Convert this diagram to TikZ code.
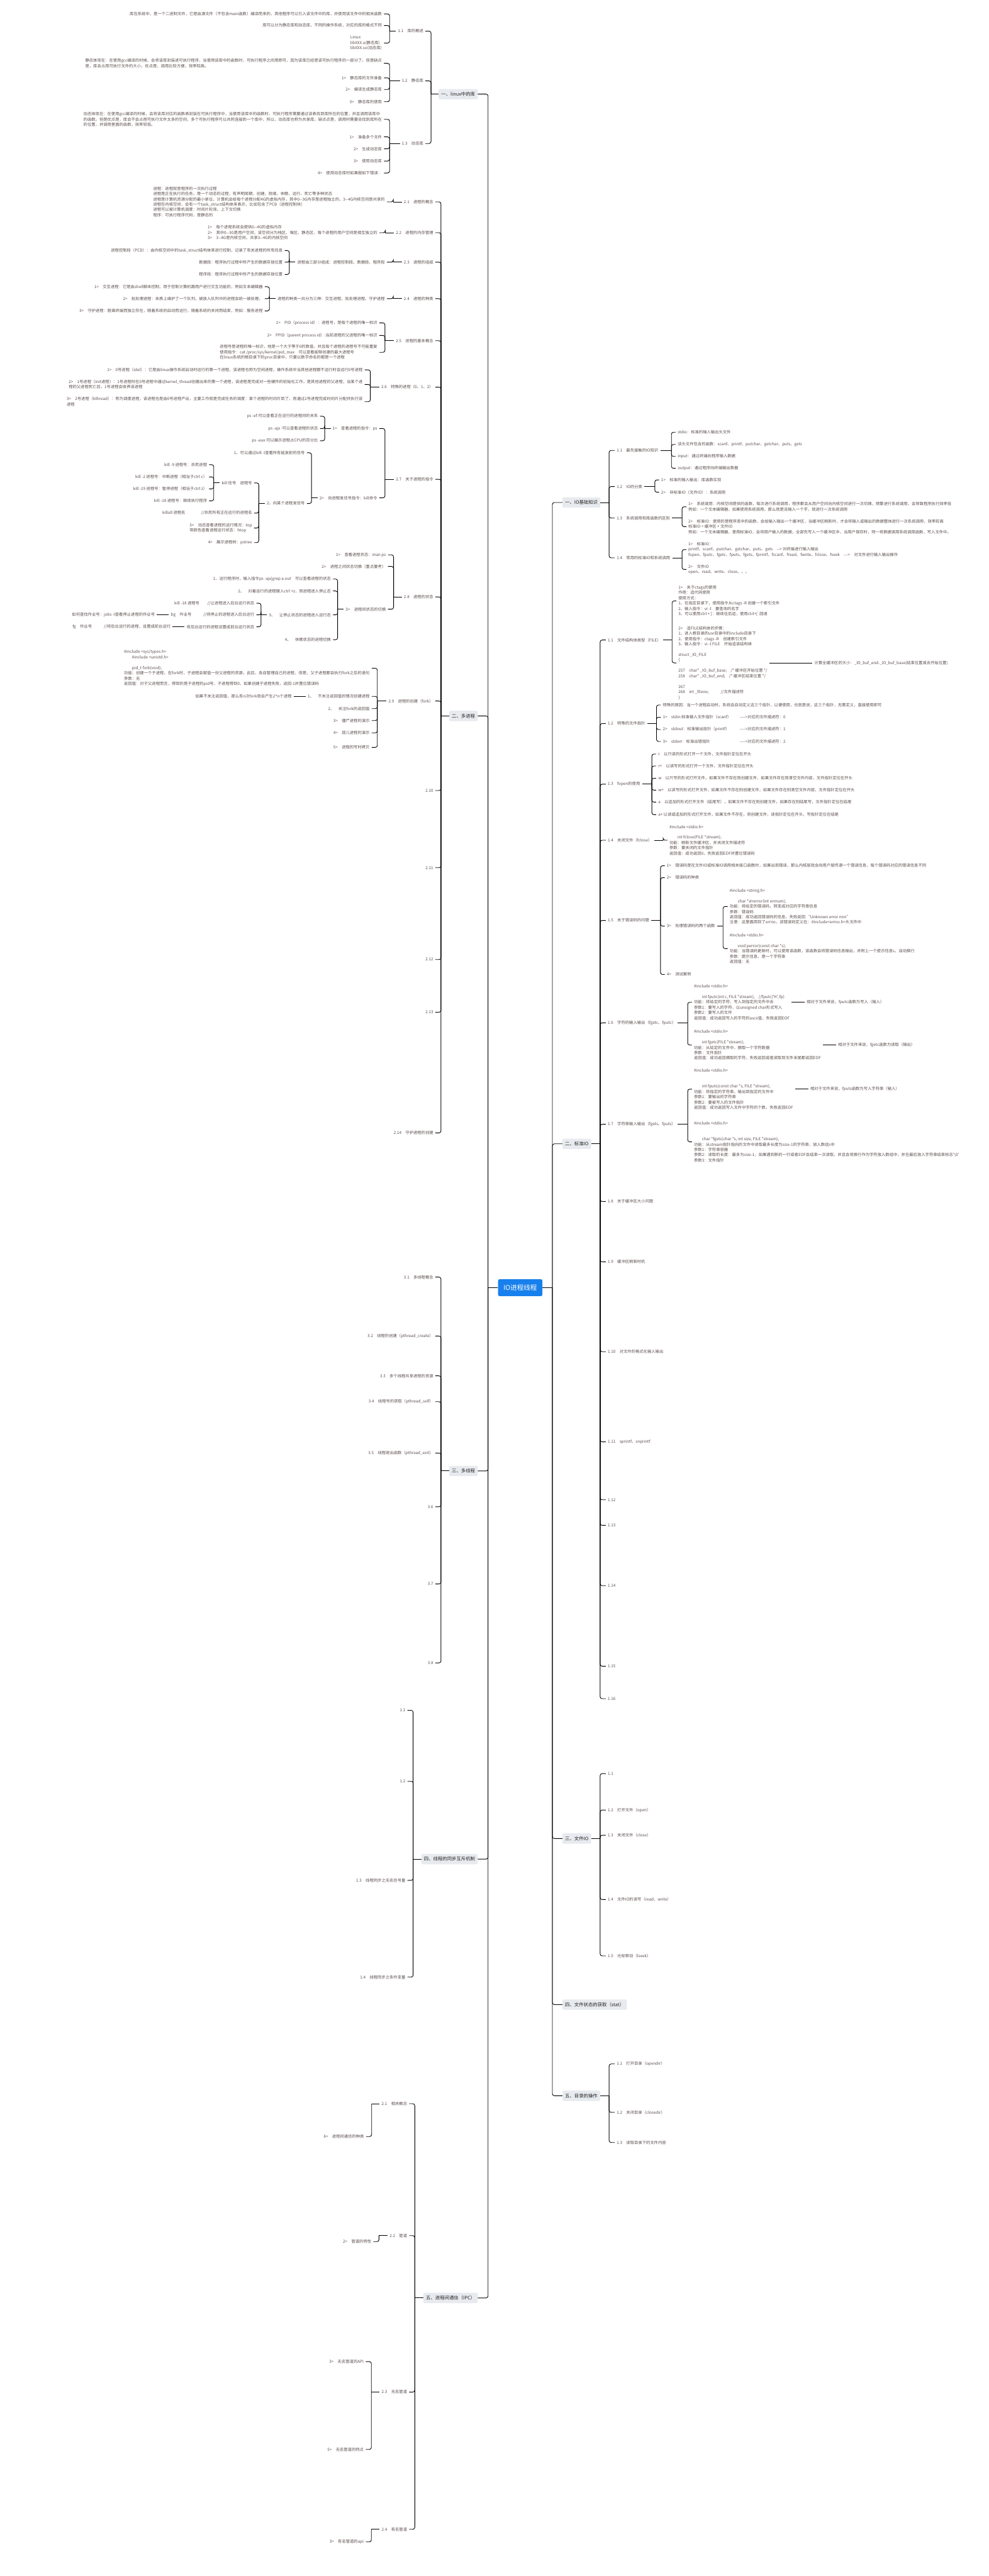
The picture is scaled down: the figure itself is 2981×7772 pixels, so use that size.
\documentclass[tikz,border=0pt]{standalone}
\usepackage{fontspec}
\setmainfont{Noto Sans CJK SC}[Ligatures=TeXOff]
\usetikzlibrary{calc}
\definecolor{leafc}{RGB}{92,76,76}
\definecolor{boxc}{RGB}{231,234,238}
\definecolor{mtxt}{RGB}{34,34,34}
\definecolor{cblue}{RGB}{24,128,236}
\newcommand\lf{\fontsize{12}{16}\selectfont}
\newcommand\mf{\fontsize{14}{17}\selectfont}
\newcommand\cf{\fontsize{20}{24}\selectfont}
\tikzset{
  every node/.style={inner ysep=1pt, inner xsep=6pt, text=leafc, font=\lf, align=left},
  nl/.style={anchor=east}, nr/.style={anchor=west},
  mb/.style={fill=boxc, rounded corners=4pt, font=\mf, text=mtxt, inner xsep=8pt, minimum height=31pt},
  cn/.style={draw=black, line width=1.7pt, rounded corners=6pt},
}
\newcommand\fkL[3]{\coordinate (fk) at (#2,0);\draw[cn] (#1.west) -- (#1.west -| fk);\foreach \kk in {#3}{\draw[cn] (#1.west -| fk) |- (\kk.east);}}
\newcommand\fkR[3]{\coordinate (fk) at (#2,0);\draw[cn] (#1.east) -- (#1.east -| fk);\foreach \kk in {#3}{\draw[cn] (#1.east -| fk) |- (\kk.west);}}
\newcommand\fkLr[2]{\path (#1.west) ++(-18,0) coordinate (fk);\draw[cn] (#1.west) -- (fk);\foreach \kk in {#2}{\draw[cn] (fk) |- (\kk.east);}}
\newcommand\fkRr[2]{\path (#1.east) ++(18,0) coordinate (fk);\draw[cn] (#1.east) -- (fk);\foreach \kk in {#2}{\draw[cn] (fk) |- (\kk.west);}}
\begin{document}
\begin{tikzpicture}[x=1pt,y=-1pt]
\fill[white] (0,0) rectangle (2981,7772);
\useasboundingbox (0,0) rectangle (2981,7772);
% ================= centre and main branches
\node[fill=cblue,text=white,font=\cf,rounded corners=5pt,minimum width=134pt,minimum height=51pt,inner xsep=8pt] (C) at (1569,3885) {IO进程线程};
\node[mb,nl] (m1) at (1441,284) {一、linux中的库};
\node[mb,nl] (m2) at (1441,2160) {二、多进程};
\node[mb,nl] (m3) at (1441,4438) {三、多线程};
\node[mb,nl] (m4) at (1441,5609) {四、线程的同步互斥机制};
\node[mb,nl] (m5) at (1441,6933) {五、进程间通信（IPC）};
\node[mb,nr] (r1) at (1696,1516) {一、IO基础知识};
\node[mb,nr] (r2) at (1696,3451) {二、标准IO};
\node[mb,nr] (r3) at (1696,5547) {三、文件IO};
\node[mb,nr] (r4) at (1696,6048) {四、文件状态的获取（stat）};
\node[mb,nr] (r5) at (1696,6323) {五、目录的操作};
\fkL{C}{1472}{m1,m2,m3,m4,m5}
\fkR{C}{1666}{r1,r2,r3,r4,r5}
% ================= left 一 linux中的库
\node[nl] (a1) at (1283,94) {1.1　库的概述};
\node[nl] (a2) at (1283,244) {1.2　静态库};
\node[nl] (a3) at (1283,433) {1.3　动态库};
\fkL{m1}{1300}{a1,a2,a3}
\node[nl] (a1a) at (1158,42) {库在系统中，是一个二进制文件，它是由源文件（不包含main函数）编译而来的，其他程序可以引入该文件中的库，并使用该文件中的相关函数};
\node[nl] (a1b) at (1158,77) {库可以分为静态库和动态库，不同的操作系统，对应的库的格式不同};
\node[nl] (a1c) at (1158,130) {Linux:\\libXXX.a(静态库)\\libXXX.so(动态库)};
\fkL{a1}{1175}{a1a,a1b,a1c}
\node[nl] (a2a) at (1158,191) {静态体现在：在使用gcc编译的时候，会将该库封装进可执行程序，当使用该库中的函数时，可执行程序之间用即可，因为该库已经是该可执行程序的一部分了。但是缺点\\是，库会占用可执行文件的大小，优点是，调用比较方便，效率较高。};
\node[nl] (a2b) at (1158,235) {1>　静态库的文件准备};
\node[nl] (a2c) at (1158,270) {2>　编译生成静态库};
\node[nl] (a2d) at (1158,307) {3>　静态库的使用};
\fkL{a2}{1175}{a2a,a2b,a2c,a2d}
\node[nl] (a3a) at (1158,360) {动态体现在：在使用gcc编译的时候，会将该库对应的函数表封装在可执行程序中，当使用该库中的函数时，可执行程序需要通过该表找到库所在的位置，并且调用该库中\\的函数。但是优点是，库会不会占用可执行文件太多的空间，多个可执行程序可以共同连接到一个库中，所以，动态库也称为共享库。缺点点是，调用时需要去找到库所在\\的位置，并调用里面的函数，效率较低。};
\node[nl] (a3b) at (1158,413) {1>　准备多个文件};
\node[nl] (a3c) at (1158,449) {2>　生成动态库};
\node[nl] (a3d) at (1158,486) {3>　使用动态库};
\node[nl] (a3e) at (1158,522) {4>　使用动态库时如果报如下错误：};
\fkL{a3}{1175}{a3a,a3b,a3c,a3d,a3e}
% ================= left 二 多进程
\node[nl] (b1) at (1313,609) {2.1　进程的概念};
\node[nl] (b2) at (1313,702) {2.2　进程的内存管理};
\node[nl] (b3) at (1313,791) {2.3　进程的组成};
\node[nl] (b4) at (1313,901) {2.4　进程的种类};
\node[nl] (b5) at (1313,1028) {2.5　进程的基本概念};
\node[nl] (b6) at (1313,1168) {2.6　特殊的进程（0、1、2）};
\node[nl] (b7) at (1313,1446) {2.7　关于进程的指令};
\node[nl] (b8) at (1313,1801) {2.8　进程的状态};
\node[nl] (b9) at (1313,2115) {2.9　进程的创建（fork）};
\node[nl] (b10) at (1313,2385) {2.10};
\node[nl] (b11) at (1313,2618) {2.11};
\node[nl] (b12) at (1313,2895) {2.12};
\node[nl] (b13) at (1313,3054) {2.13};
\node[nl] (b14) at (1313,3418) {2.14　守护进程的创建};
\fkL{m2}{1330}{b1,b2,b3,b4,b5,b6,b7,b8,b9,b10,b11,b12,b13,b14}
\node[nl] (b1a) at (1167,609) {进程：进程就是程序的一次执行过程\\进程是正在执行的任务，是一个动态的过程，有声明周期，创建、就绪、休眠、运行、死亡等多种状态\\进程是计算机资源分配的最小单位，计算机会给每个进程分配4G的虚拟内存，其中0--3G内存是进程独立的，3--4G内核空间是共享的\\进程在内核空间，会有一个task\_struct结构体来表示，比如包含了PCB（进程控制块）\\进程可以被计算机调度：时间片轮询、上下文切换\\程序：可执行程序代码，是静态的};
\fkL{b1}{1186}{b1a}
\node[nl] (b2a) at (1144,702) {1>　每个进程系统会提供0--4G的虚拟内存\\2>　其中0--3G是用户空间，该空间分为栈区、堆区、静态区，每个进程的用户空间是相互独立的\\3>　3--4G是内核空间，共享3--4G的内核空间};
\fkL{b2}{1162}{b2a}
\node[nl] (b3a) at (1167,791) {进程由三部分组成：进程控制段、数据段、程序段};
\fkL{b3}{1186}{b3a}
\node[nl] (b3a1) at ($(b3a.west)+(-32,-35)$) {进程控制段（PCD）：由内核空间中的task\_struct结构体来进行控制，记录了有关进程的所有信息};
\node[nl] (b3a2) at ($(b3a.west)+(-32,0)$) {数据段：程序执行过程中所产生的数据存放位置};
\node[nl] (b3a3) at ($(b3a.west)+(-32,37)$) {程序段：程序执行过程中所产生的数据存放位置};
\fkLr{b3a}{b3a1,b3a2,b3a3}
\node[nl] (b4a) at (1167,901) {进程的种类一共分为三种：交互进程、批处理进程、守护进程};
\fkL{b4}{1186}{b4a}
\node[nl] (b4a1) at ($(b4a.west)+(-32,-36)$) {1>　交互进程：它是由shell脚本控制，用于控制计算机跟用户进行交互功能的，例如文本编辑器};
\node[nl] (b4a2) at ($(b4a.west)+(-32,0)$) {2>　批处理进程：本质上维护了一个队列，被放入队列中的进程会统一被处理。};
\node[nl] (b4a3) at ($(b4a.west)+(-32,37)$) {3>　守护进程：脱离终端而独立存在，随着系统的启动而运行，随着系统的关闭而结束，例如：服务进程};
\fkLr{b4a}{b4a1,b4a2,b4a3}
\node[nl] (b5a) at (1144,974) {1>　PID（process id）：进程号，是每个进程的唯一标识};
\node[nl] (b5b) at (1144,1012) {2>　PPID（parent process id）:当前进程的父进程的唯一标识};
\node[nl] (b5c) at (1144,1063) {进程号是进程的唯一标识，他是一个大于等于0的数值，并且每个进程的进程号不可能重复\\使用指令：cat /proc/sys/kernel/pid\_max　可以查看能够创建的最大进程号\\在linux系统的根目录下的proc目录中，只要以数字命名的都是一个进程};
\fkL{b5}{1161}{b5a,b5b,b5c}
\node[nl] (b6a) at (1100,1116) {1>　0号进程（idel）：它是由linux操作系统启动时运行的第一个进程，该进程也称为空闲进程，操作系统中当其他进程都不运行时会运行0号进程};
\node[nl] (b6b) at (1100,1160) {2>　1号进程（init进程）：1号进程时在0号进程中通过kernel\_thread创建出来的第一个进程，该进程是完成对一些硬件的初始化工作，是其他进程的父进程，当某个进\\程的父进程死亡后，1号进程会收养该进程};
\node[nl] (b6c) at (1100,1212) {3>　2号进程（kthread）：称为调度进程，该进程也是由0号进程产出，主要工作就是完成任务的调度：某个进程的时间片到了，则通过2号进程完成时间片分配并执行该\\进程};
\fkL{b6}{1117}{b6a,b6b,b6c}
\node[nl] (b7a) at (1144,1293) {1>　查看进程的指令：ps};
\node[nl] (b7b) at (1144,1502) {2>　向进程发信号指令：kill命令};
\fkL{b7}{1161}{b7a,b7b}
\node[nl] (b7a1) at ($(b7a.west)+(-32,-37)$) {ps -ef:可以查看正在运行的进程间的关系};
\node[nl] (b7a2) at ($(b7a.west)+(-32,0)$) {ps -ajx :可以查看进程的状态};
\node[nl] (b7a3) at ($(b7a.west)+(-32,37)$) {ps -aux:可以展示进程占CPU的百分比};
\fkLr{b7a}{b7a1,b7a2,b7a3}
\node[nl] (b7b1) at ($(b7b.west)+(-32,-136)$) {1、可以通过kill -l查看所有能发射的信号};
\node[nl] (b7b2) at ($(b7b.west)+(-32,17)$) {2、向某个进程发信号};
\fkLr{b7b}{b7b1,b7b2}
\node[nl] (b7b2a) at ($(b7b2.west)+(-32,-62)$) {kill 信号　进程号};
\node[nl] (b7b2b) at ($(b7b2.west)+(-32,29)$) {killall 进程名　　　　//杀死所有正在运行的进程名};
\node[nl] (b7b2c) at ($(b7b2.west)+(-32,74)$) {3>　动态查看进程的运行情况：top\\带颜色查看进程运行状态：htop};
\node[nl] (b7b2d) at ($(b7b2.west)+(-32,118)$) {4>　展示进程树：pstree};
\fkLr{b7b2}{b7b2a,b7b2b,b7b2c,b7b2d}
\node[nl] (kk1) at ($(b7b2a.west)+(-32,-55)$) {kill -9 进程号：杀死进程};
\node[nl] (kk2) at ($(b7b2a.west)+(-32,-18)$) {kill -2 进程号：中断进程（相当于ctrl c）};
\node[nl] (kk3) at ($(b7b2a.west)+(-32,18)$) {kill -19 进程号：暂停进程（相当于ctrl z）};
\node[nl] (kk4) at ($(b7b2a.west)+(-32,54)$) {kill -18 进程号：继续执行程序};
\fkLr{b7b2a}{kk1,kk2,kk3,kk4}
\node[nl] (b8a) at (1170,1674) {1>　查看进程状态：man ps};
\node[nl] (b8b) at (1170,1709) {2>　进程之间状态切换（重点要考）};
\node[nl] (b8c) at (1170,1838) {3>　进程间状态的切换};
\fkL{b8}{1187}{b8a,b8b,b8c}
\node[nl] (b8c1) at ($(b8c.west)+(-32,-91)$) {1、运行程序时，输入指令ps -ajx|grep a.out　可以查看进程的状态};
\node[nl] (b8c2) at ($(b8c.west)+(-32,-55)$) {2、　对着运行的进程键入ctrl +z，则进程进入停止态};
\node[nl] (b8c3) at ($(b8c.west)+(-32,17)$) {3、　让停止状态的进程进入运行态};
\node[nl] (b8c4) at ($(b8c.west)+(-32,92)$) {4、　休眠状态的进程切换};
\fkLr{b8c}{b8c1,b8c2,b8c3,b8c4}
\node[nl] (b8c3a) at ($(b8c3.west)+(-32,-35)$) {kill -18 进程号　　//让进程进入后台运行状态};
\node[nl] (b8c3b) at ($(b8c3.west)+(-32,0)$) {bg　作业号　　　//将停止的进程进入后台运行};
\node[nl] (b8c3c) at ($(b8c3.west)+(-32,36)$) {将后台运行的进程设置成前台运行状态};
\fkLr{b8c3}{b8c3a,b8c3b,b8c3c}
\node[nl] (b8c3b1) at ($(b8c3b.west)+(-36,0)$) {如何查找作业号：jobs -l查看停止进程的作业号};
\draw[cn] (b8c3b.west) -- (b8c3b1.east);
\node[nl] (b8c3c1) at ($(b8c3c.west)+(-36,0)$) {fg　作业号　　　//将后台运行的进程，设置成前台运行};
\draw[cn] (b8c3c.west) -- (b8c3c1.east);
\node[nl] (b9a) at (1121,2016) {\#include <sys/types.h>\\　　\#include <unistd.h>\\[16pt]　　pid\_t fork(void);\\功能：创建一个子进程，在fork时，子进程会赋值一份父进程的资源，此后，各自管理自己的进程，但是，父子进程都会执行fork之后的语句\\参数：无\\返回值：对于父进程而言，得到的是子进程的pid号，子进程得到0，如果创建子进程失败，返回-1并置位错误码};
\node[nl] (b9b) at (1121,2101) {1、　不关注返回值的情况创建进程};
\node[nl] (b9c) at (1121,2138) {2、　关注fork的返回值};
\node[nl] (b9d) at (1121,2174) {3>　僵尸进程的演示};
\node[nl] (b9e) at (1121,2211) {4>　孤儿进程的演示};
\node[nl] (b9f) at (1121,2255) {5>　进程的写时拷贝};
\fkL{b9}{1138}{b9a,b9b,b9c,b9d,b9e,b9f}
\node[nl] (b9b1) at ($(b9b.west)+(-36,0)$) {如果不关注返回值，那么有n次fork就会产生2\textasciicircum n个进程};
\draw[cn] (b9b.west) -- (b9b1.east);
% ================= left 三 多线程
\node[nl] (c1) at (1313,3853) {3.1　多线程概念};
\node[nl] (c2) at (1313,4031) {3.2　线程的创建（pthread\_create）};
\node[nl] (c3) at (1313,4151) {3.3　多个线程共享进程的资源};
\node[nl] (c4) at (1313,4229) {3.4　线程号的获取（pthread\_self）};
\node[nl] (c5) at (1313,4384) {3.5　线程退出函数（pthread\_exit）};
\node[nl] (c6) at (1313,4546) {3.6};
\node[nl] (c7) at (1313,4779) {3.7};
\node[nl] (c8) at (1313,5017) {3.8};
\fkL{m3}{1330}{c1,c2,c3,c4,c5,c6,c7,c8}
% ================= left 四
\node[nl] (d1) at (1229,5160) {1.1};
\node[nl] (d2) at (1229,5374) {1.2};
\node[nl] (d3) at (1229,5673) {1.3　线程同步之无名信号量};
\node[nl] (d4) at (1229,5965) {1.4　线程同步之条件变量};
\fkL{m4}{1246}{d1,d2,d3,d4}
% ================= left 五
\node[nl] (e1) at (1234,6347) {2.1　相关概念};
\node[nl] (e2) at (1234,6745) {2.2　管道};
\node[nl] (e3) at (1234,7217) {2.3　无名管道};
\node[nl] (e4) at (1234,7631) {2.4　有名管道};
\fkL{m5}{1251}{e1,e2,e3,e4}
\node[nl] (e1f) at (1104,6446) {6>　进程间通信的种类};
\fkL{e1}{1121}{e1f}
\node[nl] (e2b) at (1126,6763) {2>　管道的特性};
\fkL{e2}{1143}{e2b}
\node[nl] (e3c) at (1103,7125) {3>　无名管道的API};
\node[nl] (e3e) at (1103,7390) {5>　无名管道的特点};
\fkL{e3}{1120}{e3c,e3e}
\node[nl] (e4c) at (1103,7669) {3>　有名管道的api};
\fkL{e4}{1120}{e4c}
% ================= right 一 IO基础知识
\node[nr] (f1) at (1854,1359) {1.1　最先接触的IO知识};
\node[nr] (f2) at (1854,1468) {1.2　IO的分类};
\node[nr] (f3) at (1854,1563) {1.3　系统调用和库函数的区别};
\node[nr] (f4) at (1854,1683) {1.4　常用的标准IO和系统调用};
\fkR{r1}{1837}{f1,f2,f3,f4}
\node[nr] (f1a) at (2038,1304) {stdio：标准的输入输出头文件};
\node[nr] (f1b) at (2038,1341) {该头文件包含的函数：scanf、printf、putchar、getchar、puts、gets};
\node[nr] (f1c) at (2038,1377) {input：通过终端向程序输入数据};
\node[nr] (f1d) at (2038,1413) {output：通过程序向终端输出数据};
\fkR{f1}{2025}{f1a,f1b,f1c,f1d}
\node[nr] (f2a) at (1988,1448) {1>　标准的输入输出：库函数实现};
\node[nr] (f2b) at (1988,1485) {2>　非标准IO（文件IO）：系统调用};
\fkR{f2}{1975}{f2a,f2b}
\node[nr] (f3a) at (2070,1529) {1>　系统调用：内核空间提供的函数，每次进行系统调用，程序都会从用户空间向内核空间进行一次切换，频繁进行系统调用，会导致程序执行效率低\\例如：一个文本编辑器，如果使用系统调用，那么就是没输入一个字，就进行一次系统调用};
\node[nr] (f3b) at (2070,1589) {2>　标准IO：使用的是程序库中的函数，会给输入输出一个缓冲区，当缓冲区刷新时，才会将输入或输出的数据整体进行一次系统调用，效率较高\\标准IO = 缓冲区 + 文件IO\\例如：一个文本编辑器，使用标准IO，会将用户输入的数据，全部先写入一个缓冲区中，当用户保存时，同一将数据调用系统调用函数，写入文件中。};
\fkR{f3}{2057}{f3a,f3b}
\node[nr] (f4a) at (2070,1658) {1>　标准IO：\\printf、scanf、putchar、getchar、puts、gets　--> 对终端进行输入输出\\fopen、fputc、fgetc、fputs、fgets、fprintf、fscanf、fread、fwrite、fclose、fseek　--->　对文件进行输入输出操作};
\node[nr] (f4b) at (2070,1718) {2>　文件IO\\open、read、write、close。。。};
\fkR{f4}{2057}{f4a,f4b}
% ================= right 二 标准IO
\node[nr] (g1) at (1827,1931) {1.1　文件结构体类型（FILE）};
\node[nr] (g2) at (1827,2183) {1.2　特殊的文件指针};
\node[nr] (g3) at (1827,2366) {1.3　fopen的使用};
\node[nr] (g4) at (1827,2535) {1.4　关闭文件（fclose）};
\node[nr] (g5) at (1827,2777) {1.5　关于错误码的问题};
\node[nr] (g6) at (1827,3086) {1.6　字符的输入输出（fgetc、fputc）};
\node[nr] (g7) at (1827,3392) {1.7　字符串输入输出（fgets、fputs）};
\node[nr] (g8) at (1827,3625) {1.8　关于缓冲区大小问题};
\node[nr] (g9) at (1827,3807) {1.9　缓冲区刷新时机};
\node[nr] (g10) at (1827,4078) {1.10　对文件的格式化输入输出};
\node[nr] (g11) at (1827,4350) {1.11　sprintf、snprintf};
\node[nr] (g12) at (1827,4525) {1.12};
\node[nr] (g13) at (1827,4602) {1.13};
\node[nr] (g14) at (1827,4784) {1.14};
\node[nr] (g15) at (1827,5027) {1.15};
\node[nr] (g16) at (1827,5125) {1.16};
\fkR{r2}{1810}{g1,g2,g3,g4,g5,g6,g7,g8,g9,g10,g11,g12,g13,g14,g15,g16}
\node[nr] (g1a) at (2040,1813) {1>　关于ctags的使用\\作用：追代码使用\\使用方式：\\1、在指定目录下，使用指令从ctags -R 创建一个索引文件\\2、输入指令：vi -t　要查询的名字\\3、可以使用ctrl + ]：继续往后追，使用ctrl+[ :回退};
\node[nr] (g1b) at (2040,2000) {2>　追FILE结构体的步骤：\\1、进入根目录的usr目录中的include目录下\\2、使用指令：ctags -R　创建索引文件\\3、输入指令：vi -t FILE　开始追该结构体\\[16pt]struct \_IO\_FILE\\\{\\[16pt]257　char* \_IO\_buf\_base;　/* 缓冲区开始位置 */\\258　char* \_IO\_buf\_end;　/* 缓冲区结束位置 */\\[16pt]267\\268　int \_fileno;　　　//文件描述符\\\}};
\fkR{g1}{2027}{g1a,g1b}
\node[nr] (g1b1) at ($(g1b.east)+(130,0)$) {计算全缓冲区的大小：\_IO\_buf\_end-\_IO\_buf\_base(结束位置减去开始位置)};
\draw[cn] (g1b.east) -- (g1b1.west);
\node[nr] (g2a) at (1993,2127) {特殊的原因：当一个进程启动时，系统会自动定义这三个指针，以便使用，也就是说，这三个指针，无需定义，直接使用即可};
\node[nr] (g2b) at (1993,2164) {\makebox[232pt][l]{1>　stdin:标准输入文件指针（scanf）}---->对应的文件描述符：0};
\node[nr] (g2c) at (1993,2201) {\makebox[232pt][l]{2>　stdout：标准输出指针（printf）}---->对应的文件描述符：1};
\node[nr] (g2d) at (1993,2237) {\makebox[232pt][l]{3>　stderr：标准出错指针}---->对应的文件描述符：2};
\fkR{g2}{1980}{g2a,g2b,g2c,g2d}
\node[nr] (g3a) at (1979,2275) {r　以只读的形式打开一个文件，文件指针定位在开头};
\node[nr] (g3b) at (1979,2311) {r+　以读写的形式打开一个文件，文件指针定位在开头};
\node[nr] (g3c) at (1979,2348) {w　以只写的形式打开文件，如果文件不存在则创建文件，如果文件存在则清空文件内容，文件指针定位在开头};
\node[nr] (g3d) at (1979,2384) {w+　以读写的形式打开文件，如果文件不存在则创建文件，如果文件存在则清空文件内容，文件指针定位在开头};
\node[nr] (g3e) at (1979,2420) {a　以追加的形式打开文件（结尾写），如果文件不存在则创建文件，如果存在则结尾写，文件指针定位在结尾};
\node[nr] (g3f) at (1979,2458) {a+ 以读或追加的形式打开文件，如果文件不存在，则创建文件，读指针定位在开头，写指针定位在结尾};
\fkR{g3}{1966}{g3a,g3b,g3c,g3d,g3e,g3f}
\node[nr] (g4a) at (2013,2535) {\#include <stdio.h>\\[16pt]　　int fclose(FILE *stream);\\功能：刷新文件缓冲区，并关闭文件描述符\\参数：要关闭的文件指针\\返回值：成功返回0，失败返回EOF并置位错误码};
\fkR{g4}{2000}{g4a}
\node[nr] (g5a) at (2005,2612) {1>　错误码是在文件IO或标准IO调用相关接口函数时，如果出现错误，那么内核层就会向用户层传递一个错误信息，每个错误码对应的错误信息不同};
\node[nr] (g5b) at (2005,2648) {2>　错误码的种类};
\node[nr] (g5c) at (2005,2794) {3>　处理错误码的两个函数};
\node[nr] (g5d) at (2005,2940) {4>　测试案例};
\fkR{g5}{1992}{g5a,g5b,g5c,g5d}
\node[nr] (g5c1) at ($(g5c.east)+(32,-59)$) {\#include <string.h>\\[16pt]　　char *strerror(int errnum);\\功能：将给定的错误码，转变成对应的字符串信息\\参数：错误码\\返回值：成功返回错误码的信息，失败返回 “Unknown error nnn”\\注意：这里面用到了errno，该错误码定义在：\#include<errno.h>头文件中};
\node[nr] (g5c2) at ($(g5c.east)+(32,68)$) {\#include <stdio.h>\\[16pt]　　void perror(const char *s);\\功能：当错误码更新时，可以使用该函数，该函数会将错误码信息输出，并附上一个提示信息s，自动换行\\参数：提示信息，是一个字符串\\返回值：无};
\fkRr{g5c}{g5c1,g5c2}
\node[nr] (g6a) at (2087,3024) {\#include <stdio.h>\\[16pt]　　int fputc(int c, FILE *stream);　//fputc('H', fp)\\功能：将给定的字符，写入到指定的文件中去\\参数1：要写入的字符，以unsigned char形式写入\\参数2：要写入的文件\\返回值：成功返回写入的字符的ascii值，失败返回EOF};
\node[nr] (g6b) at (2087,3153) {\#include <stdio.h>\\[16pt]　　int fgetc(FILE *stream);\\功能：从给定的文件中，摘取一个字符数据\\参数：文件指针\\返回值：成功返回摘取的字符，失败返回或者读取到文件末尾都返回EOF};
\fkR{g6}{2074}{g6a,g6b}
\node[nr] (g6a1) at ($(g6a.east)+(40,0)$) {相对于文件来说，fputc函数为写入（输入）};
\draw[cn] (g6a.east) -- (g6a1.west);
\node[nr] (g6b1) at ($(g6b.east)+(40,0)$) {相对于文件来说，fgetc函数为读取（输出）};
\draw[cn] (g6b.east) -- (g6b1.west);
\node[nr] (g7a) at (2087,3286) {\#include <stdio.h>\\[32pt]　　int fputs(const char *s, FILE *stream);\\功能：将指定的字符串，输出到指定的文件中\\参数1：要输出的字符串\\参数2：要被写入的文件指针\\返回值：成功返回写入文件中字符的个数，失败返回EOF};
\node[nr] (g7b) at (2087,3445) {\#include <stdio.h>\\[32pt]　　char *fgets(char *s, int size, FILE *stream);\\功能：从stream指针指向的文件中读取最多长度为size-1的字符串，放入数组s中\\参数1：字符串容器\\参数2：读取的长度：最多为size-1，如果遇到新的一行或者EOF会结束一次读取，并且会将换行作为字符放入数组中，并在最后放入字符串结束标志'\textbackslash 0'\\参数3：文件指针};
\fkR{g7}{2074}{g7a,g7b}
\node[nr] (g7a1) at ($(g7a.east)+(40,0)$) {相对于文件来说，fputs函数为写入字符串（输入）};
\draw[cn] (g7a.east) -- (g7a1.west);
% ================= right 三 文件IO
\node[nr] (h1) at (1827,5351) {1.1};
\node[nr] (h2) at (1827,5461) {1.2　打开文件（open）};
\node[nr] (h3) at (1827,5537) {1.3　关闭文件（close）};
\node[nr] (h4) at (1827,5731) {1.4　文件IO的读写（read、write）};
\node[nr] (h5) at (1827,5901) {1.5　光标移动（lseek）};
\fkR{r3}{1810}{h1,h2,h3,h4,h5}
% ================= right 五 目录的操作
\node[nr] (k1) at (1854,6227) {1.1　打开目录（opendir）};
\node[nr] (k2) at (1854,6373) {1.2　关闭目录（closedir）};
\node[nr] (k3) at (1854,6464) {1.3　读取目录下的文件内容};
\fkR{r5}{1837}{k1,k2,k3}
\end{tikzpicture}
\end{document}
